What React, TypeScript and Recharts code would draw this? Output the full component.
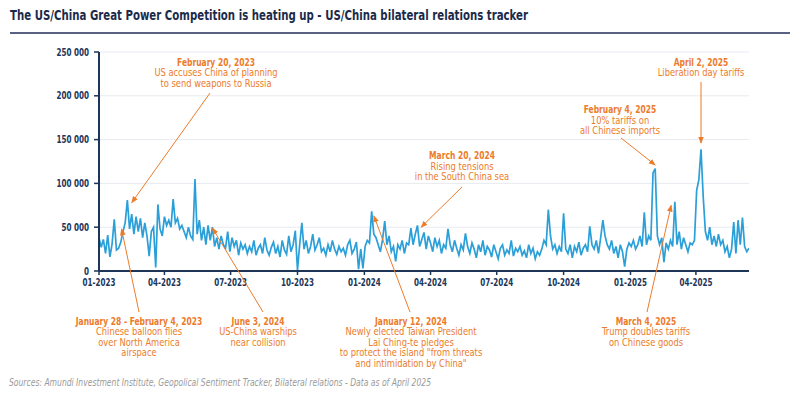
import { LineChart, Line, XAxis, YAxis, CartesianGrid } from 'recharts'

const START_DATE = '2023-01-01'
const END_DATE = '2025-06-13'
const STEP_DAYS = 3
const QUARTER_TICKS = [
  '2023-01-01', '2023-04-01', '2023-07-01', '2023-10-01',
  '2024-01-01', '2024-04-01', '2024-07-01', '2024-10-01',
  '2025-01-01', '2025-04-01',
]
const Y_TICKS = [0, 50000, 100000, 150000, 200000, 250000]

// tracker readings, thousands, one every 3 days from START_DATE
const TRACKER_K = [
  // 2023
  38, 27, 36, 20, 41, 16, 31, 59, 24, 26, 33,
  45, 55, 81, 48, 65, 42, 62, 45, 60,
  38, 55, 40, 17, 45, 50, 4, 76, 48, 40,
  62, 52, 58, 50, 82, 55, 60, 48, 52, 45,
  38, 50, 40, 36, 105, 42, 58, 35, 50, 30,
  52, 35, 50, 28, 38, 25, 40, 30, 26, 45,
  22, 38, 28, 35, 18, 32, 25, 30, 20, 28,
  22, 35, 18, 26, 30, 20, 38, 24, 18, 27, 33,
  20, 28, 16, 35, 24, 19, 40, 22, 30, 46,
  1, 30, 55, 25, 35, 20, 28, 42, 24, 30,
  38, 22, 26, 18, 30, 22, 35, 25, 19, 28,
  22, 26, 18, 30, 35, 20, 25, 33, 2, 25, 3,
  // 2024
  28, 35, 32, 68, 42, 38, 30, 22, 36, 57,
  30, 40, 22, 28, 11, 30, 25, 35, 20, 32,
  30, 49, 30, 42, 52, 28, 36, 44, 25, 40,
  32, 22, 38, 28, 35, 20, 30, 26, 48, 30,
  22, 35, 26, 18, 30, 24, 43, 28, 20, 32,
  25, 15, 30, 22, 35, 18, 28, 24, 16, 30,
  22, 14, 26, 30, 18, 24, 20, 35, 17, 26, 22,
  28, 18, 23, 15, 30, 20, 26, 14, 22, 18,
  25, 35, 30, 70, 40, 25, 30, 20, 28, 22,
  66, 25, 20, 30, 15, 28, 22, 33, 18, 26,
  30, 22, 51, 30, 25, 35, 20, 38, 58, 40,
  30, 25, 35, 20, 28, 15, 30, 22, 5, 25, 32,
  // 2025
  28, 35, 25, 30, 40, 28, 67, 30, 40, 35,
  112, 117, 40, 30, 38, 10, 32, 25, 35,
  28, 79, 30, 45, 25, 38, 30, 22, 32, 30, 35,
  92, 104, 139, 85, 45, 35, 50, 30, 40, 28,
  42, 30, 35, 22, 28, 15, 25, 56, 20, 58,
  30, 61, 28, 22, 26,
]

const DAY_MS = 86400000
const T0 = Date.parse(START_DATE)
const T1 = Date.parse(END_DATE)
const Y_MAX = 250000

const data = TRACKER_K.map((k, i) => ({ t: T0 + i * STEP_DAYS * DAY_MS, v: k * 1000 }))

const W = 800
const H = 396
const PLOT = { left: 99, top: 52, right: 749, bottom: 271 }
const Y_AXIS_W = 60
const X_AXIS_H = 30

const NAVY = '#1c3559'
const BLUE = '#2a9fd8'
const ORANGE = '#ec7b2a'
const FONT = "'Liberation Sans Narrow', 'Arial Narrow', 'DejaVu Sans Condensed', Lato, sans-serif"

const NOTES = [
  { head: 'February 20, 2023', lines: ['US accuses China of planning', 'to send weapons to Russia'], cx: 216, cy: 62, from: [210, 93], at: ['2023-02-15', 78000] },
  { head: 'March 20, 2024', lines: ['Rising tensions', 'in the South China sea'], cx: 462, cy: 155.5, from: [462, 187], at: ['2024-03-19', 50000] },
  { head: 'February 4, 2025', lines: ['10% tariffs on', 'all Chinese imports'], cx: 620, cy: 109.5, from: [621, 138], at: ['2025-02-04', 121000] },
  { head: 'April 2, 2025', lines: ['Liberation day tariffs'], cx: 701, cy: 62, from: [701, 82], at: ['2025-04-08', 146000] },
  { head: 'January 28 - February 4, 2023', lines: ['Chinese balloon flies', 'over North America', 'airspace'], cx: 139, cy: 321, from: [139, 312], at: ['2023-02-01', 48000] },
  { head: 'June 3, 2024', lines: ['US-China warships', 'near collision'], cx: 258, cy: 321, from: [263, 312], at: ['2023-06-06', 49000] },
  { head: 'January 12, 2024', lines: ['Newly elected Taiwan President', 'Lai Ching-te pledges', 'to protect the island "from threats', 'and intimidation by China"'], cx: 411, cy: 321, from: [410, 312], at: ['2024-01-14', 63000] },
  { head: 'March 4, 2025', lines: ['Trump doubles tariffs', 'on Chinese goods'], cx: 646, cy: 321, from: [647, 312], at: ['2025-02-26', 75000] },
]

const toX = (date: string) =>
  PLOT.left + ((Date.parse(date) - T0) / (T1 - T0)) * (PLOT.right - PLOT.left)
const toY = (v: number) => PLOT.bottom - (v / Y_MAX) * (PLOT.bottom - PLOT.top)

const fmtMonth = (t: number) => {
  const d = new Date(t)
  return `${String(d.getUTCMonth() + 1).padStart(2, '0')}-${d.getUTCFullYear()}`
}
const fmtThousands = (v: number) => String(v).replace(/\B(?=(\d{3})+(?!\d))/g, ' ')

const tickText = { fill: NAVY, fontWeight: 700, fontFamily: FONT }

function XTick({ x, y, payload }: any) {
  return (
    <g transform={`translate(${x},${y})`}>
      <text transform="scale(0.76,1)" textAnchor="middle" dy="0.71em" fontSize={10.5} {...tickText}>
        {fmtMonth(payload.value)}
      </text>
    </g>
  )
}

function YTick({ x, y, payload }: any) {
  return (
    <g transform={`translate(${x},${y})`}>
      <text transform="scale(0.8,1)" textAnchor="end" dy="0.355em" fontSize={10} {...tickText}>
        {fmtThousands(payload.value)}
      </text>
    </g>
  )
}

function Annotations() {
  return (
    <svg width={W} height={H} style={{ position: 'absolute', left: 0, top: 0, pointerEvents: 'none' }}>
      <defs>
        <marker id="arrow" viewBox="0 0 10 10" refX="9" refY="5" markerWidth="7" markerHeight="7" orient="auto">
          <path d="M0,1 L10,5 L0,9 z" fill={ORANGE} />
        </marker>
      </defs>

      <text x={10} y={20} fontFamily={FONT} fontWeight={700} fontSize={13.5} fill="#1b2a4a"
        textLength={518} lengthAdjust="spacingAndGlyphs">
        The US/China Great Power Competition is heating up - US/China bilateral relations tracker
      </text>
      <line x1={10} x2={790} y1={33} y2={33} stroke="#5b6182" strokeWidth={2} />

      {NOTES.map((n) => (
        <g key={n.head}>
          <line x1={n.from[0]} y1={n.from[1]} x2={toX(n.at[0] as string)} y2={toY(n.at[1] as number)}
            stroke={ORANGE} strokeWidth={1} markerEnd="url(#arrow)" />
          <g transform={`translate(${n.cx},${n.cy + 3.5})`}>
            <text transform="scale(0.8,1)" textAnchor="middle" fontFamily={FONT} fontSize={10.5}
              fontWeight={700} fill={ORANGE}>
              {n.head}
            </text>
            <text transform="scale(0.9,1)" textAnchor="middle" fontFamily={FONT} fontSize={10.3} fill={ORANGE}>
              {n.lines.map((l, i) => (
                <tspan key={l} x={0} y={10.6 * (i + 1)}>{l}</tspan>
              ))}
            </text>
          </g>
        </g>
      ))}

      <text x={9} y={386} fontFamily={FONT} fontStyle="italic" fontSize={10} fill="#9a9a9a"
        textLength={422} lengthAdjust="spacingAndGlyphs">
        Sources: Amundi Investment Institute, Geopolical Sentiment Tracker, Bilateral relations - Data as of April 2025
      </text>
    </svg>
  )
}

export default function App() {
  return (
    <div style={{ position: 'absolute', left: 0, top: 0, width: W, height: H, background: '#fff' }}>
      <LineChart
        width={W}
        height={H}
        data={data}
        margin={{ top: PLOT.top, right: W - PLOT.right, bottom: H - PLOT.bottom - X_AXIS_H, left: PLOT.left - Y_AXIS_W }}
      >
        <CartesianGrid vertical={false} stroke="#e7eaf0" />
        <XAxis
          dataKey="t"
          type="number"
          scale="linear"
          domain={[T0, T1]}
          ticks={QUARTER_TICKS.map((d) => Date.parse(d))}
          interval={0}
          height={X_AXIS_H}
          tickSize={4}
          tickMargin={4}
          axisLine={{ stroke: NAVY, strokeWidth: 2 }}
          tickLine={{ stroke: NAVY, strokeWidth: 1.5 }}
          tick={<XTick />}
          allowDataOverflow
        />
        <YAxis
          type="number"
          domain={[0, Y_MAX]}
          ticks={Y_TICKS}
          interval={0}
          width={Y_AXIS_W}
          tickSize={5}
          tickMargin={5}
          axisLine={{ stroke: NAVY, strokeWidth: 2 }}
          tickLine={{ stroke: NAVY, strokeWidth: 1.5 }}
          tick={<YTick />}
        />
        <Line
          type="linear"
          dataKey="v"
          stroke={BLUE}
          strokeWidth={1.7}
          dot={false}
          isAnimationActive={false}
        />
      </LineChart>
      <Annotations />
    </div>
  )
}
